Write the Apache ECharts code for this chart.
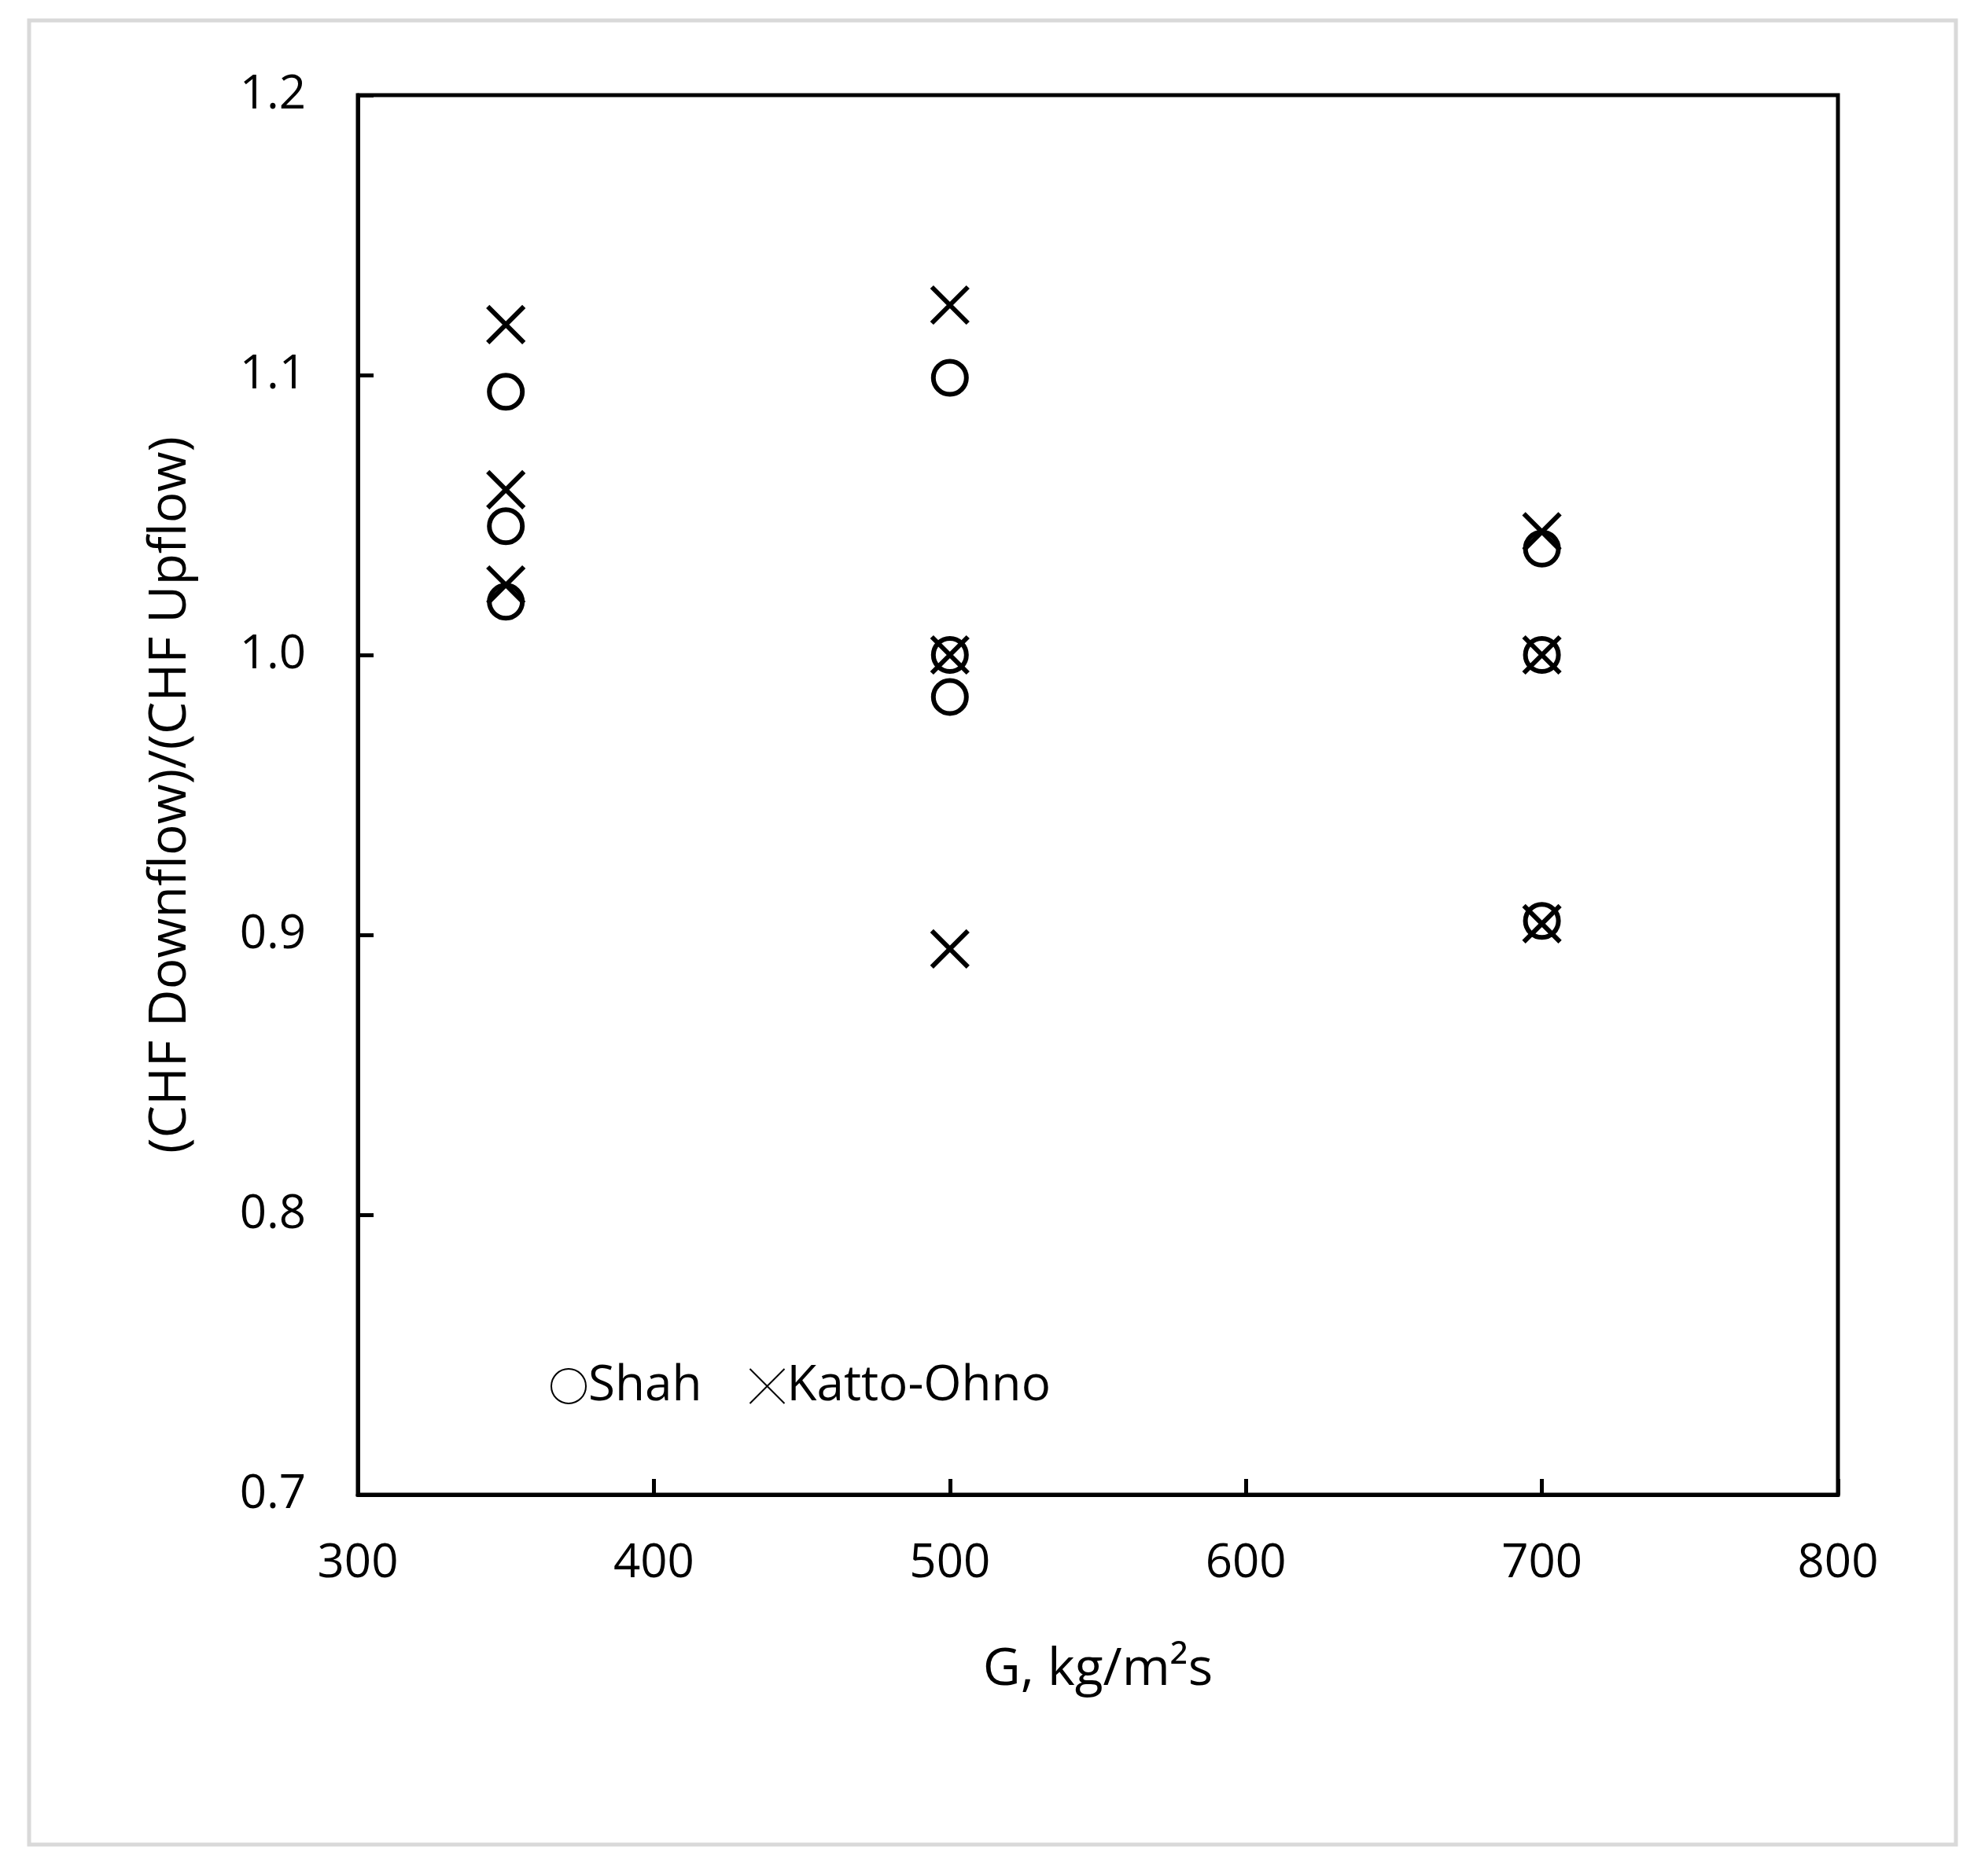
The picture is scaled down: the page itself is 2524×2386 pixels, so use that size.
<!DOCTYPE html>
<html><head><meta charset="utf-8">
<script src="https://cdn.jsdelivr.net/npm/echarts@6/dist/echarts.min.js"></script>
<style>html,body{margin:0;padding:0;background:#fff}#c{width:2524px;height:2386px}</style>
</head><body><div id="c"></div>
<script>
const shahX = [350, 350, 350, 500, 500, 500, 700, 700, 700];
const shahY = [1.094, 1.046, 1.019, 1.099, 1.000, 0.985, 1.038, 1.000, 0.905];
const kattoX = [350, 350, 350, 500, 500, 500, 700, 700, 700];
const kattoY = [1.118, 1.059, 1.025, 1.125, 1.000, 0.895, 1.044, 1.000, 0.904];
const seriesNames = ['Shah', 'Katto-Ohno'];
const FONT = '"Open Sans", "Noto Sans", sans-serif';
const chart = echarts.init(document.getElementById('c'));
const cross = 'path://M0,0L10,10M10,0L0,10';
chart.setOption({
  animation: false,
  backgroundColor: '#fff',
  graphic: [{type:'rect', shape:{x:37,y:26,width:2450,height:2320}, style:{fill:'none', stroke:'#d9d9d9', lineWidth:5}}],
  grid: {left: 455, right: 187, top: 121, bottom: 485, show: true, borderColor: '#000', borderWidth: 5},
  legend: {
    left: 695, top: 1727, itemWidth: 44, itemHeight: 44, itemGap: 60,
    textStyle: {fontFamily: FONT, fontSize: 62, color: '#000', padding:[0,0,0,-2]},
    data: seriesNames.map(n => ({name: n}))
  },
  xAxis: {
    type: 'value', min: 300, max: 800, interval: 100,
    name: 'G, kg/m²s', nameLocation: 'middle', nameGap: 190,
    nameTextStyle: {fontFamily: FONT, fontSize: 66, color: '#000'},
    axisLine: {lineStyle: {color: '#000', width: 5}},
    axisTick: {inside: true, length: 20, lineStyle: {color: '#000', width: 5}},
    axisLabel: {fontFamily: FONT, fontSize: 60, color: '#000', margin: 58},
    splitLine: {show: false}
  },
  yAxis: {
    type: 'value', min: 0.7, max: 1.2, interval: 0.1,
    name: '(CHF Downflow)/(CHF Upflow)', nameLocation: 'middle', nameGap: 205,
    nameTextStyle: {fontFamily: FONT, fontSize: 66, color: '#000'},
    axisLine: {lineStyle: {color: '#000', width: 5}},
    axisTick: {inside: true, length: 20, lineStyle: {color: '#000', width: 5}},
    axisLabel: {fontFamily: FONT, fontSize: 60, color: '#000', margin: 66, formatter: v => v.toFixed(1)},
    splitLine: {show: false}
  },
  series: [
    {name: seriesNames[0], type: 'scatter', symbol: 'circle', symbolSize: 42,
     itemStyle: {color: 'rgba(0,0,0,0)', borderColor: '#000', borderWidth: 6, opacity: 1},
     data: shahX.map((x, i) => [x, shahY[i]])},
    {name: seriesNames[1], type: 'scatter', symbol: cross, symbolSize: 46,
     itemStyle: {color: '#000', borderColor: '#000', borderWidth: 6, opacity: 1},
     data: kattoX.map((x, i) => [x, kattoY[i]])}
  ]
});
</script></body></html>
